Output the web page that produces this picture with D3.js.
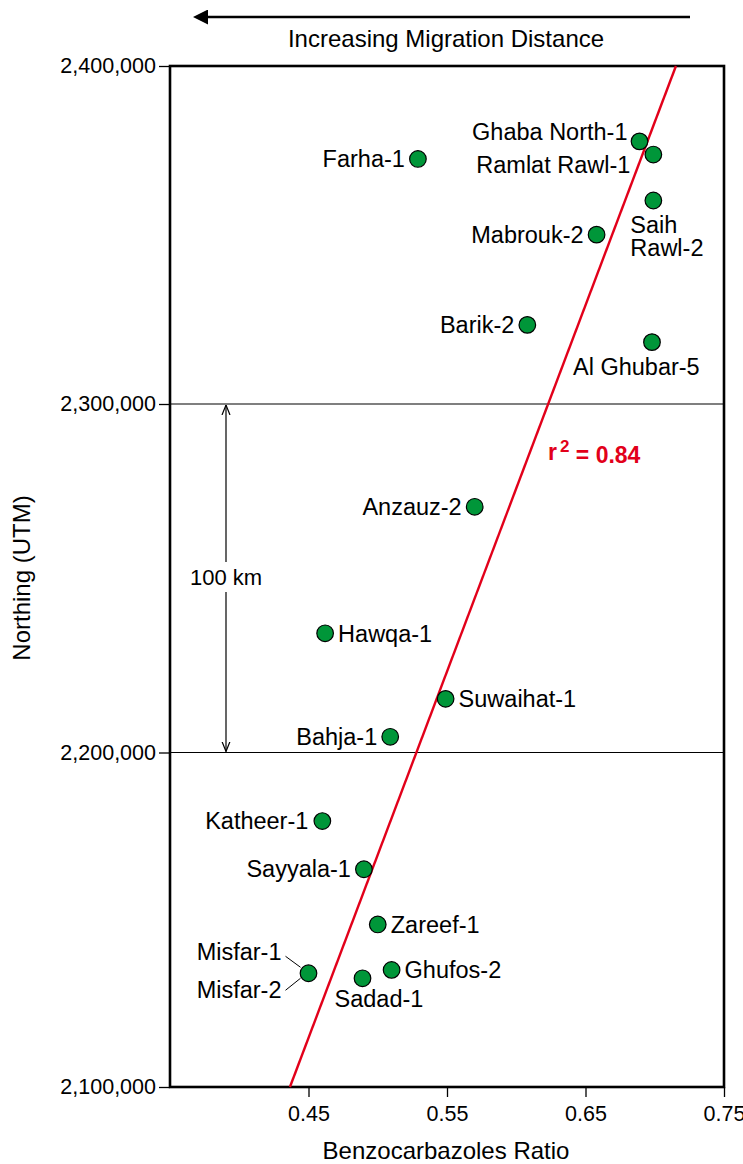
<!DOCTYPE html>
<html>
<head>
<meta charset="utf-8">
<script src="https://cdn.jsdelivr.net/npm/d3@7"></script>
<style>
  html, body { margin: 0; padding: 0; background: #fff; }
  svg { display: block; font-family: "Liberation Sans", Arial, Helvetica, sans-serif; }
</style>
</head>
<body>
<svg id="chart" width="743" height="1164"></svg>
<script>
// Well names, benzocarbazole ratio and northing (UTM, m)
const wells = ["Farha-1", "Ghaba North-1", "Ramlat Rawl-1", "Saih Rawl-2", "Mabrouk-2", "Barik-2",
  "Al Ghubar-5", "Anzauz-2", "Hawqa-1", "Suwaihat-1", "Bahja-1", "Katheer-1", "Sayyala-1",
  "Zareef-1", "Misfar-1/2", "Ghufos-2", "Sadad-1"];
const ratio = [0.529, 0.689, 0.699, 0.699, 0.658, 0.608,
  0.698, 0.570, 0.462, 0.549, 0.509, 0.460, 0.490,
  0.500, 0.450, 0.510, 0.489];
const northing = [2372500, 2377700, 2373800, 2360200, 2350100, 2323400,
  2318300, 2270500, 2234200, 2215400, 2204500, 2179500, 2165100,
  2148600, 2134000, 2135000, 2132500];

// Axis ticks
const xTicks = [0.45, 0.55, 0.65, 0.75];
const yTicks = [2100000, 2200000, 2300000, 2400000];
const gridValues = [2200000, 2300000];

// Least-squares fit, drawn between its two end points
const fitRatio = [0.4366, 0.7153];
const fitNorthing = [2100000, 2400000];
const rSquared = 0.84;

// Label placement for each well: anchor and offset from its dot
const labelPlace = {
  "Farha-1":       { anchor: "end",   dx: -13, dy: 0, lines: ["Farha-1"] },
  "Ghaba North-1": { anchor: "end",   dx: -12, dy: -10, lines: ["Ghaba North-1"] },
  "Ramlat Rawl-1": { anchor: "end",   dx: -23, dy: 10, lines: ["Ramlat Rawl-1"] },
  "Saih Rawl-2":   { anchor: "start", dx: -23, dy: 24, lines: ["Saih", "Rawl-2"] },
  "Mabrouk-2":     { anchor: "end",   dx: -13, dy: 0, lines: ["Mabrouk-2"] },
  "Barik-2":       { anchor: "end",   dx: -13, dy: 0, lines: ["Barik-2"] },
  "Al Ghubar-5":   { anchor: "start", dx: -79, dy: 25, lines: ["Al Ghubar-5"] },
  "Anzauz-2":      { anchor: "end",   dx: -13, dy: 0, lines: ["Anzauz-2"] },
  "Hawqa-1":       { anchor: "start", dx: 13, dy: 0, lines: ["Hawqa-1"] },
  "Suwaihat-1":    { anchor: "start", dx: 13, dy: 0, lines: ["Suwaihat-1"] },
  "Bahja-1":       { anchor: "end",   dx: -13, dy: 0, lines: ["Bahja-1"] },
  "Katheer-1":     { anchor: "end",   dx: -14, dy: 0, lines: ["Katheer-1"] },
  "Sayyala-1":     { anchor: "end",   dx: -13, dy: 0, lines: ["Sayyala-1"] },
  "Zareef-1":      { anchor: "start", dx: 13, dy: 0, lines: ["Zareef-1"] },
  "Ghufos-2":      { anchor: "start", dx: 13, dy: 0, lines: ["Ghufos-2"] },
  "Sadad-1":       { anchor: "start", dx: -28, dy: 20, lines: ["Sadad-1"] }
};

const svg = d3.select("#chart");
const plot = { left: 170, right: 724, top: 66, bottom: 1087 };

const x = d3.scaleLinear().domain([0.35, 0.75]).range([plot.left, plot.right]);
// northing axis is drawn with its printed gridline spacing
const y = d3.scaleLinear()
  .domain([2100000, 2200000, 2300000, 2400000])
  .range([plot.bottom, 752.5, 404, plot.top]);

const green = "#009639";
const red = "#e2001a";
const tickSize = 21.5;
const labelSize = 23.5;
const titleSize = 24;

// Gridlines
svg.append("g").selectAll("line").data(gridValues).join("line")
  .attr("x1", plot.left).attr("x2", plot.right)
  .attr("y1", d => y(d)).attr("y2", d => y(d))
  .attr("stroke", "#000").attr("stroke-width", 1.2);

// Axes
const yAxis = svg.append("g")
  .attr("transform", `translate(${plot.left},0)`)
  .call(d3.axisLeft(y).tickValues(yTicks).tickSize(11).tickPadding(3).tickFormat(d3.format(",")));
const xAxis = svg.append("g")
  .attr("transform", `translate(0,${plot.bottom})`)
  .call(d3.axisBottom(x).tickValues(xTicks).tickSize(10).tickPadding(9).tickFormat(d3.format(".2f")));
[yAxis, xAxis].forEach(g => {
  g.select(".domain").remove();
  g.selectAll(".tick line").attr("stroke", "#000").attr("stroke-width", 1.3);
  g.selectAll(".tick text").attr("font-size", tickSize).attr("fill", "#000")
    .attr("font-family", "Liberation Sans, Arial, sans-serif");
});

// Plot frame
svg.append("rect")
  .attr("x", plot.left).attr("y", plot.top)
  .attr("width", plot.right - plot.left).attr("height", plot.bottom - plot.top)
  .attr("fill", "none").attr("stroke", "#000").attr("stroke-width", 2.6);

// Arrow heads
const markers = svg.append("defs");
markers.append("marker").attr("id", "tipOpen")
  .attr("viewBox", "0 0 10 10").attr("refX", 10).attr("refY", 5)
  .attr("markerWidth", 10).attr("markerHeight", 10).attr("markerUnits", "userSpaceOnUse")
  .attr("orient", "auto-start-reverse")
  .append("path").attr("d", "M0,1 L10,5 L0,9").attr("fill", "none").attr("stroke", "#000").attr("stroke-width", 1.2);
markers.append("marker").attr("id", "tipSolid")
  .attr("viewBox", "0 0 10 10").attr("refX", 2).attr("refY", 5)
  .attr("markerWidth", 17).attr("markerHeight", 15).attr("markerUnits", "userSpaceOnUse")
  .attr("orient", "auto")
  .append("path").attr("d", "M0,0 L10,5 L0,10 Z").attr("fill", "#000");

// 100 km scale bar between the two gridlines
const barX = 226;
svg.append("line")
  .attr("x1", barX).attr("x2", barX)
  .attr("y1", y(2300000) + 1).attr("y2", y(2200000) - 1)
  .attr("stroke", "#000").attr("stroke-width", 1.2)
  .attr("marker-start", "url(#tipOpen)").attr("marker-end", "url(#tipOpen)");
const kmY = 577;
svg.append("rect").attr("x", barX - 40).attr("y", kmY - 15).attr("width", 80).attr("height", 30).attr("fill", "#fff");
svg.append("text").attr("x", barX).attr("y", kmY).attr("dy", "0.35em")
  .attr("text-anchor", "middle").attr("font-size", 22).text("100 km");

// Regression line
svg.append("line")
  .attr("x1", x(fitRatio[0])).attr("y1", y(fitNorthing[0]))
  .attr("x2", x(fitRatio[1])).attr("y2", y(fitNorthing[1]))
  .attr("stroke", red).attr("stroke-width", 2.4);

const r2 = svg.append("text").attr("x", 548).attr("y", 452).attr("dy", "0.35em")
  .attr("fill", red).attr("font-weight", "bold").attr("font-size", 23);
r2.append("tspan").text("r");
r2.append("tspan").attr("dy", "-0.45em").attr("dx", 3).attr("font-size", 17).text("2");
r2.append("tspan").attr("dy", "0.45em").text(" = " + rSquared.toFixed(2));

// Wells
const rows = wells.map((w, i) => ({ name: w, r: ratio[i], n: northing[i] }));

svg.append("g").selectAll("circle").data(rows).join("circle")
  .attr("cx", d => x(d.r)).attr("cy", d => y(d.n)).attr("r", 8.3)
  .attr("fill", green).attr("stroke", "#000").attr("stroke-width", 1.2);

const labels = svg.append("g").attr("font-size", labelSize).attr("fill", "#000");
rows.forEach(d => {
  const p = labelPlace[d.name];
  if (!p) return;
  const t = labels.append("text")
    .attr("x", x(d.r) + p.dx).attr("y", y(d.n) + p.dy)
    .attr("text-anchor", p.anchor);
  p.lines.forEach((ln, k) => {
    t.append("tspan").attr("x", x(d.r) + p.dx)
      .attr("dy", k === 0 ? "0.35em" : "1.0em").text(ln);
  });
});

// Misfar-1 and Misfar-2 share one dot; leader lines to both names
const mi = wells.indexOf("Misfar-1/2");
const mx = x(ratio[mi]), my = y(northing[mi]);
[["Misfar-1", -21, -17, -6], ["Misfar-2", 17, 17, 5]].forEach(([name, off, y1, y2]) => {
  labels.append("text").attr("x", mx - 27).attr("y", my + off).attr("dy", "0.35em")
    .attr("text-anchor", "end").text(name);
  svg.append("line")
    .attr("x1", mx - 23).attr("y1", my + y1)
    .attr("x2", mx - 8).attr("y2", my + y2)
    .attr("stroke", "#000").attr("stroke-width", 1);
});

// Axis titles
svg.append("text").attr("x", 446).attr("y", 1151).attr("dy", "0.35em")
  .attr("text-anchor", "middle").attr("font-size", titleSize).text("Benzocarbazoles Ratio");
svg.append("text")
  .attr("transform", "translate(22,578) rotate(-90)")
  .attr("dy", "0.35em").attr("text-anchor", "middle").attr("font-size", titleSize)
  .text("Northing (UTM)");

// Migration direction arrow and caption
svg.append("line")
  .attr("x1", 690).attr("x2", 205).attr("y1", 17).attr("y2", 17)
  .attr("stroke", "#000").attr("stroke-width", 2.6)
  .attr("marker-end", "url(#tipSolid)");
svg.append("text").attr("x", 446).attr("y", 39).attr("dy", "0.35em")
  .attr("text-anchor", "middle").attr("font-size", titleSize).text("Increasing Migration Distance");
</script>
</body>
</html>
